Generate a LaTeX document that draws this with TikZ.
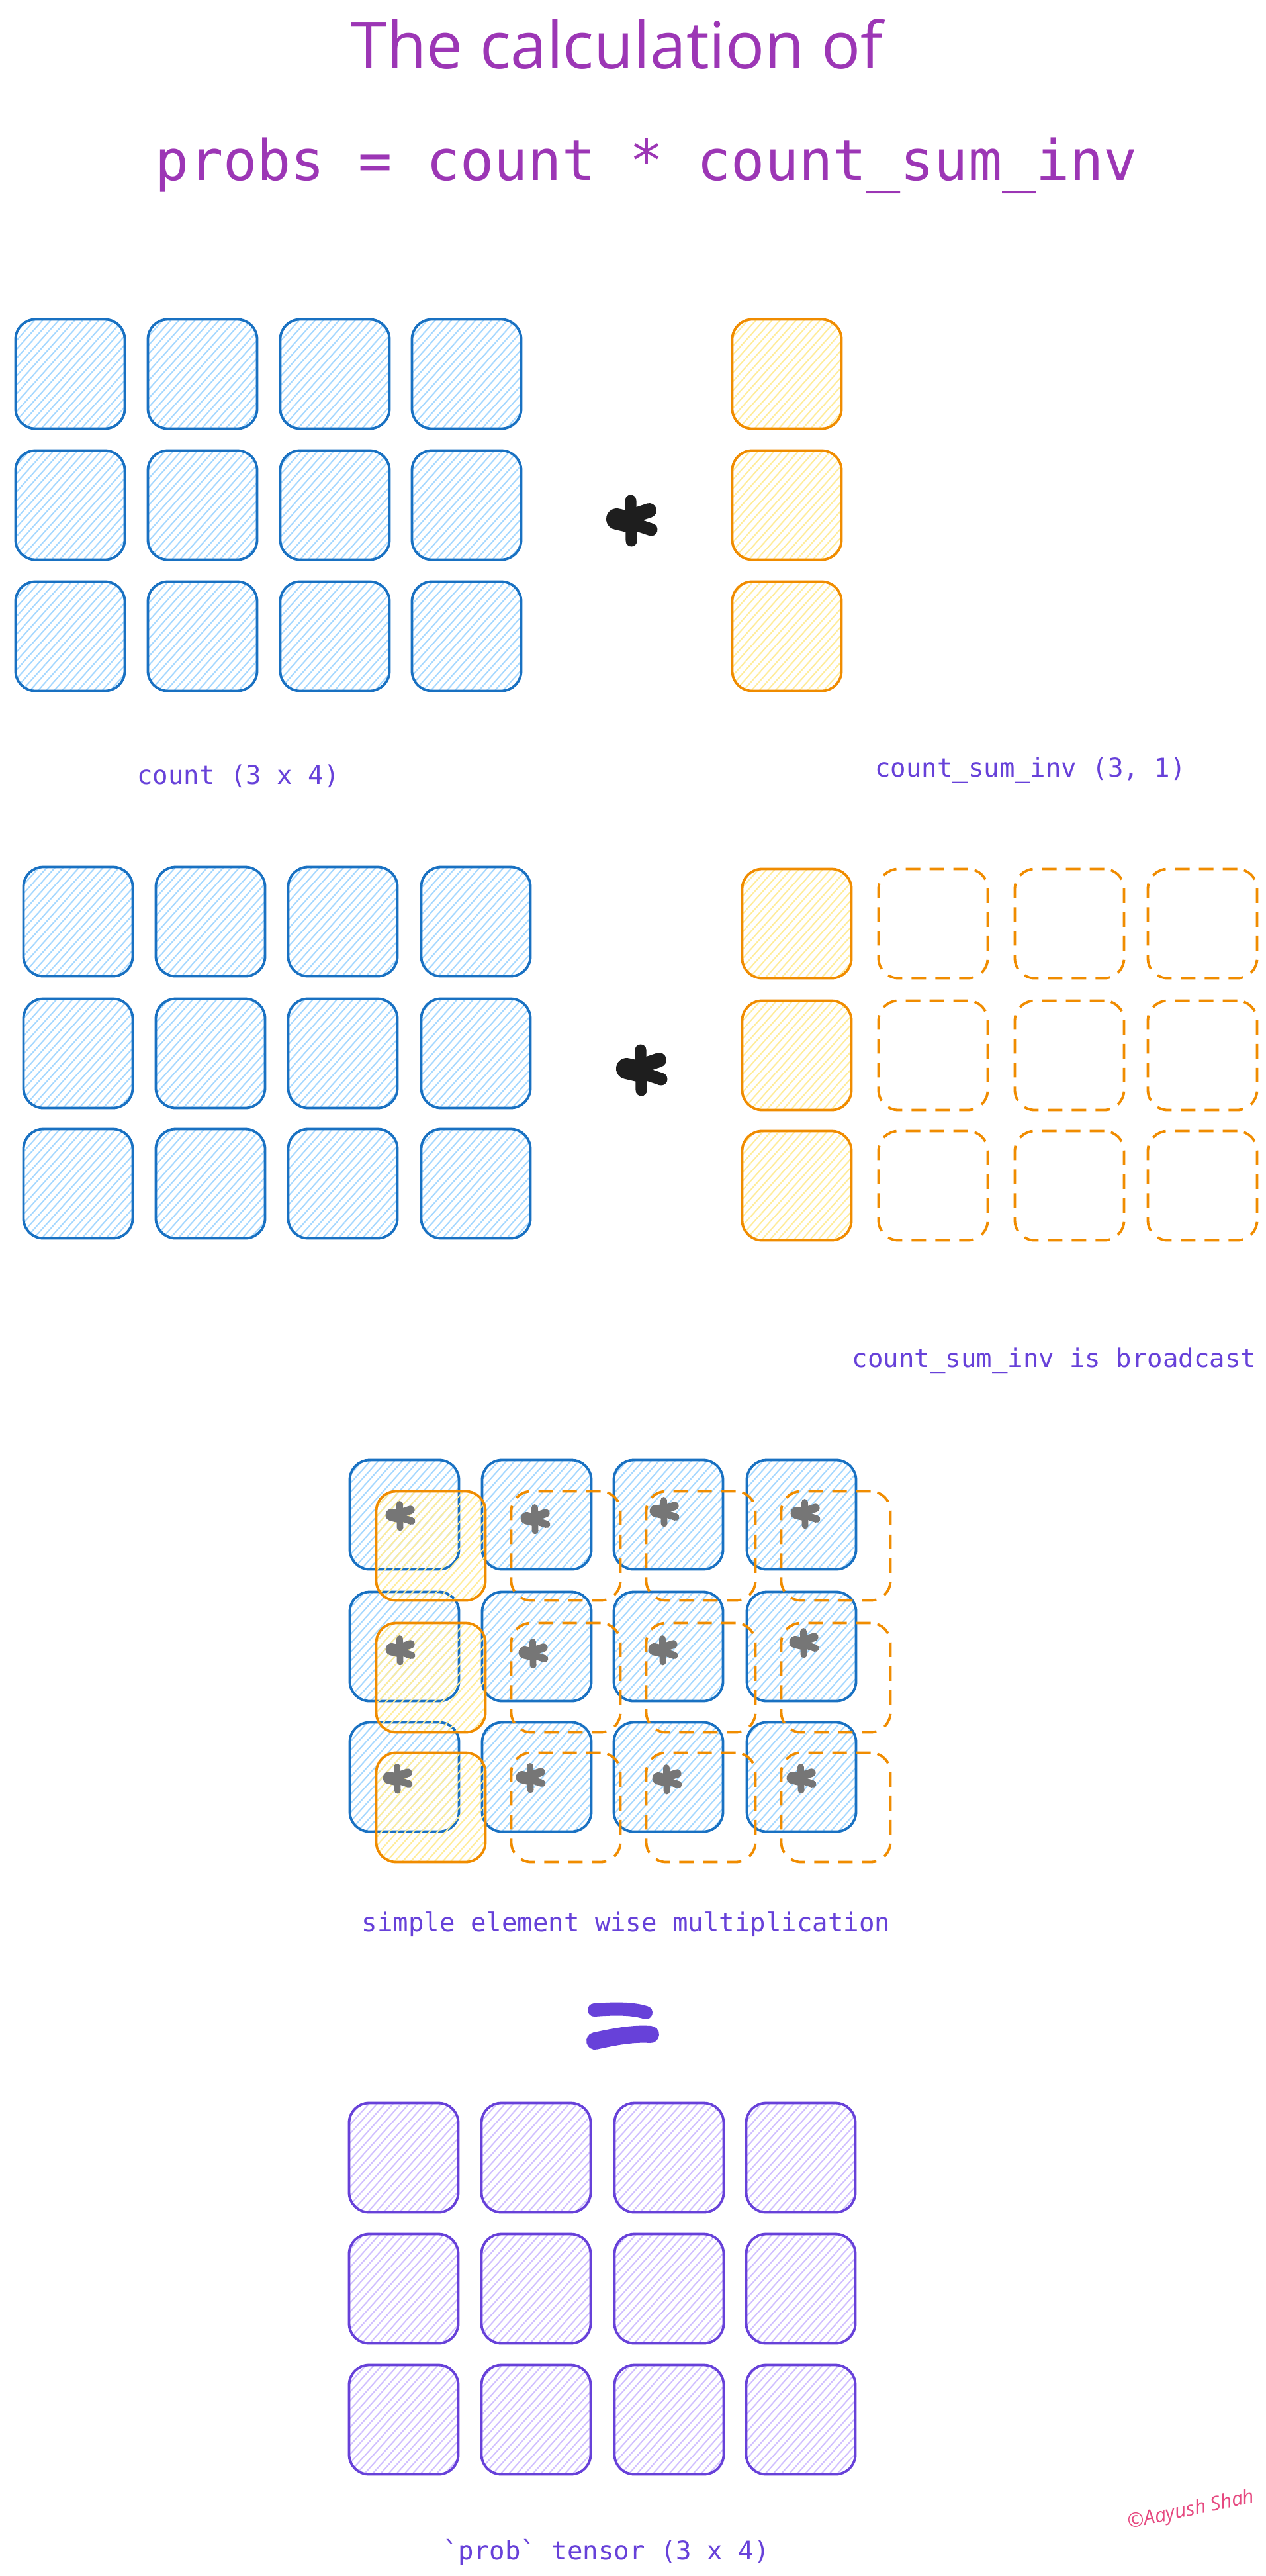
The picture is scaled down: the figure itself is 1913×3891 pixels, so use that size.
\documentclass[tikz,border=0pt]{standalone}
\usepackage{fontspec}
\usetikzlibrary{patterns.meta}

\newfontfamily\codefont{DejaVu Sans Mono}
\newfontfamily\handfont{Open Sans}

\definecolor{titlePurple}{HTML}{9C36B5}
\definecolor{lblViolet}{HTML}{6741D9}
\definecolor{cntBlue}{HTML}{1971C2}
\definecolor{hatchBlue}{HTML}{A5D8FF}
\definecolor{invOrange}{HTML}{F08C00}
\definecolor{hatchYellow}{HTML}{FFEC99}
\definecolor{hatchViolet}{HTML}{D0BFFF}
\definecolor{starInk}{HTML}{1E1E1E}
\definecolor{starGray}{HTML}{767676}
\definecolor{signPink}{HTML}{E64980}

\tikzset{every picture/.style={line width=3.5pt}}
\tikzset{
	cell/.style={minimum width=165pt, minimum height=165pt, inner sep=0pt, rounded corners=30pt, line width=3.8pt},
	bluecell/.style={cell, draw=cntBlue, pattern={Lines[angle=48,distance=9pt,line width=2pt]}, pattern color=hatchBlue},
	yellowcell/.style={cell, draw=invOrange, pattern={Lines[angle=48,distance=9pt,line width=2pt]}, pattern color=hatchYellow},
	dashcell/.style={cell, draw=invOrange, dash pattern=on 22pt off 14pt},
	violetcell/.style={cell, draw=lblViolet, pattern={Lines[angle=48,distance=9pt,line width=2pt]}, pattern color=hatchViolet},
	lbl/.style={font=\codefont\fontsize{39}{45}\selectfont, text=lblViolet, anchor=base, inner sep=0pt},
}

% the hand drawn multiplication mark: centre x, centre y, size, colour
\newcommand{\mulstar}[4]{%
	\begin{scope}[shift={(#1,#2)}, scale=#3, color=#4, line cap=round]
		\draw[line width=#3*17pt] (0,-31) -- (1,30);
		\draw[line width=#3*32pt] (-21,-3) -- (-4,1);
		\draw[line width=#3*22pt] (4,-8) -- (28,-16);
		\draw[line width=#3*19pt] (4,4) -- (31,13);
	\end{scope}}

\begin{document}
\begin{tikzpicture}[x=1pt,y=1pt,yscale=-1,xscale=1]
	\useasboundingbox (0,0) rectangle (1913,3891);
	\fill[white] (0,0) rectangle (1913,3891);

	% Text Node
	\node[font=\handfont\fontsize{98}{110}\selectfont, text=titlePurple, anchor=base] (title) at (932,104) {The calculation of};
	% Text Node
	\node[font=\codefont\fontsize{85}{95}\selectfont, text=titlePurple, anchor=base] (formula) at (977,272) {probs = count * count\_sum\_inv};

	%Shape: count (3 x 4)
	\node[bluecell] (k11) at (106,565) {}; \node[bluecell] (k12) at (306,565) {}; \node[bluecell] (k13) at (506,565) {}; \node[bluecell] (k14) at (705,565) {};
	\node[bluecell] (k21) at (106,763) {}; \node[bluecell] (k22) at (306,763) {}; \node[bluecell] (k23) at (506,763) {}; \node[bluecell] (k24) at (705,763) {};
	\node[bluecell] (k31) at (106,961) {}; \node[bluecell] (k32) at (306,961) {}; \node[bluecell] (k33) at (506,961) {}; \node[bluecell] (k34) at (705,961) {};
	%Shape: count_sum_inv (3, 1)
	\node[yellowcell] (v1) at (1189,565) {};
	\node[yellowcell] (v2) at (1189,763) {};
	\node[yellowcell] (v3) at (1189,961) {};
	\mulstar{953}{787}{1}{starInk}
	% Text Node
	\node[lbl] (countlbl) at (360,1184) {count (3 x 4)};
	% Text Node
	\node[lbl] (invlbl) at (1557,1173) {count\_sum\_inv (3, 1)};

	%Shape: count again
	\node[bluecell] (b11) at (118,1392) {}; \node[bluecell] (b12) at (318,1392) {}; \node[bluecell] (b13) at (518,1392) {}; \node[bluecell] (b14) at (719,1392) {};
	\node[bluecell] (b21) at (118,1591) {}; \node[bluecell] (b22) at (318,1591) {}; \node[bluecell] (b23) at (518,1591) {}; \node[bluecell] (b24) at (719,1591) {};
	\node[bluecell] (b31) at (118,1788) {}; \node[bluecell] (b32) at (318,1788) {}; \node[bluecell] (b33) at (518,1788) {}; \node[bluecell] (b34) at (719,1788) {};
	%Shape: broadcast copies
	\node[yellowcell] (w11) at (1204,1395) {}; \node[dashcell] (w12) at (1410,1395) {}; \node[dashcell] (w13) at (1616,1395) {}; \node[dashcell] (w14) at (1817,1395) {};
	\node[yellowcell] (w21) at (1204,1594) {}; \node[dashcell] (w22) at (1410,1594) {}; \node[dashcell] (w23) at (1616,1594) {}; \node[dashcell] (w24) at (1817,1594) {};
	\node[yellowcell] (w31) at (1204,1791) {}; \node[dashcell] (w32) at (1410,1791) {}; \node[dashcell] (w33) at (1616,1791) {}; \node[dashcell] (w34) at (1817,1791) {};
	\mulstar{968}{1617}{1}{starInk}
	% Text Node
	\node[lbl] (bcastlbl) at (1593,2065) {count\_sum\_inv is broadcast};

	%Shape: overlay of the two
	\node[bluecell] (m11) at (611,2288) {}; \node[bluecell] (m12) at (811,2288) {}; \node[bluecell] (m13) at (1010,2288) {}; \node[bluecell] (m14) at (1211,2288) {};
	\node[bluecell] (m21) at (611,2487) {}; \node[bluecell] (m22) at (811,2487) {}; \node[bluecell] (m23) at (1010,2487) {}; \node[bluecell] (m24) at (1211,2487) {};
	\node[bluecell] (m31) at (611,2684) {}; \node[bluecell] (m32) at (811,2684) {}; \node[bluecell] (m33) at (1010,2684) {}; \node[bluecell] (m34) at (1211,2684) {};
	\node[yellowcell] (o11) at (651,2335) {}; \node[dashcell] (o12) at (855,2335) {}; \node[dashcell] (o13) at (1059,2335) {}; \node[dashcell] (o14) at (1263,2335) {};
	\node[yellowcell] (o21) at (651,2534) {}; \node[dashcell] (o22) at (855,2534) {}; \node[dashcell] (o23) at (1059,2534) {}; \node[dashcell] (o24) at (1263,2534) {};
	\node[yellowcell] (o31) at (651,2730) {}; \node[dashcell] (o32) at (855,2730) {}; \node[dashcell] (o33) at (1059,2730) {}; \node[dashcell] (o34) at (1263,2730) {};
	\mulstar{604}{2290}{0.58}{starGray} \mulstar{808}{2295}{0.58}{starGray} \mulstar{1003}{2284}{0.58}{starGray} \mulstar{1216}{2287}{0.58}{starGray}
	\mulstar{604}{2493}{0.58}{starGray} \mulstar{805}{2498}{0.58}{starGray} \mulstar{1001}{2493}{0.58}{starGray} \mulstar{1214}{2482}{0.58}{starGray}
	\mulstar{600}{2687}{0.58}{starGray} \mulstar{801}{2686}{0.58}{starGray} \mulstar{1007}{2688}{0.58}{starGray} \mulstar{1210}{2687}{0.58}{starGray}
	% Text Node
	\node[lbl] (multlbl) at (946,2917) {simple element wise multiplication};

	%Straight Lines: equals sign
	\draw[lblViolet, line width=20pt, line cap=round] (898,3036) .. controls (925,3034) and (955,3033) .. (976,3040);
	\draw[lblViolet, line width=26pt, line cap=round] (899,3083) .. controls (926,3077) and (956,3071) .. (983,3073);

	%Shape: prob (3 x 4)
	\node[violetcell] (p11) at (610,3259) {}; \node[violetcell] (p12) at (810,3259) {}; \node[violetcell] (p13) at (1011,3259) {}; \node[violetcell] (p14) at (1210,3259) {};
	\node[violetcell] (p21) at (610,3457) {}; \node[violetcell] (p22) at (810,3457) {}; \node[violetcell] (p23) at (1011,3457) {}; \node[violetcell] (p24) at (1210,3457) {};
	\node[violetcell] (p31) at (610,3655) {}; \node[violetcell] (p32) at (810,3655) {}; \node[violetcell] (p33) at (1011,3655) {}; \node[violetcell] (p34) at (1210,3655) {};
	% Text Node
	\node[lbl] (problbl) at (916,3866) {`prob` tensor (3 x 4)};
	% Text Node
	\node[font=\handfont\itshape\fontsize{30}{32}\selectfont, text=signPink, rotate=12] (sign) at (1800,3792) {\textcopyright Aayush Shah};
\end{tikzpicture}
\end{document}
